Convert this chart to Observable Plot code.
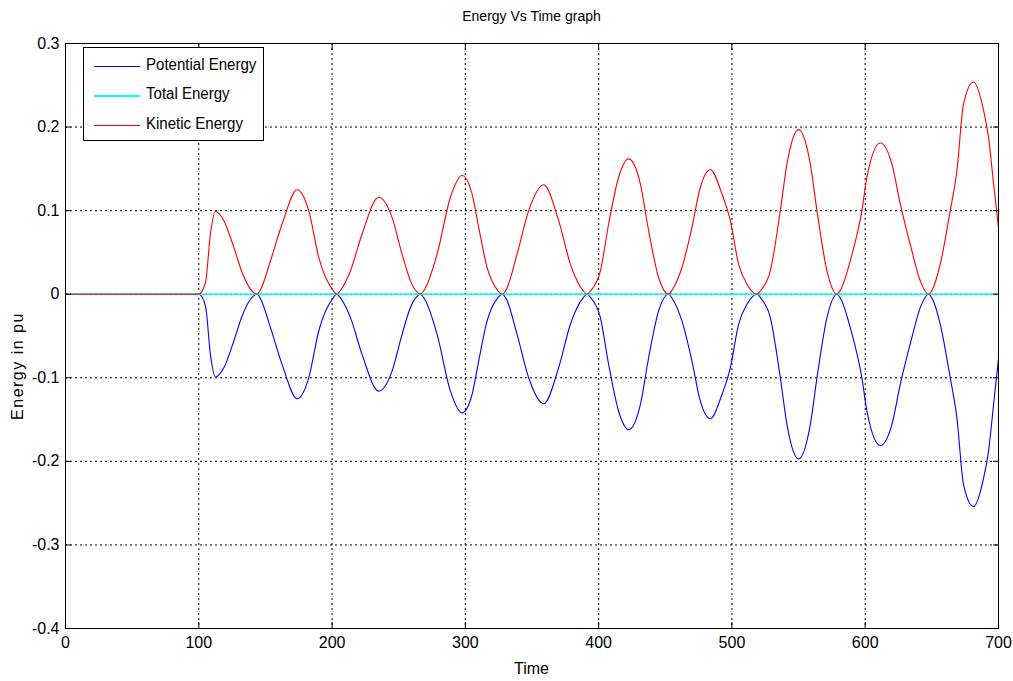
<!DOCTYPE html>
<html><head><meta charset="utf-8">
<script src="https://cdn.jsdelivr.net/npm/d3@7"></script>
<script src="https://cdn.jsdelivr.net/npm/@observablehq/plot@0.6"></script>
<style>
body{margin:0;background:#fff;}
#wrap{position:relative;width:1013px;height:681px;font-family:"Liberation Sans",Arial,sans-serif;color:#000;}
#wrap svg{display:block;}
.abs{position:absolute;white-space:nowrap;}
#title{left:0;width:1063px;top:8px;text-align:center;font-size:14px;}
#xlabel{left:0;width:1063px;top:660px;text-align:center;font-size:16px;}
#ylabel{left:18px;top:366px;font-size:16px;letter-spacing:1.5px;transform:translate(-50%,-50%) rotate(-90deg);}
#legend{left:83px;top:47px;width:179px;height:92px;border:1px solid #000;background:#fff;font-size:16px;}
.row{position:absolute;left:0;height:20px;}
.row span.ln{position:absolute;left:10px;width:46px;top:10px;height:0;border-top:1px solid;}
.row span.tx{position:absolute;left:62px;top:0px;transform:scaleX(0.94);transform-origin:left center;}
</style></head><body><div id="wrap"></div><script>
// ---- data ----
const xTicks = [0, 100, 200, 300, 400, 500, 600, 700];
const yTicks = [-0.4, -0.3, -0.2, -0.1, 0, 0.1, 0.2, 0.3];

const timeK = [0, 100, 105, 108.8, 112.5, 118.8, 126.3, 132.5, 138.8, 143.8,
  146.5, 153.8, 162.5, 173.8, 182.5, 190, 201, 203.5,
  206.5, 213.8, 222.5, 235, 245, 252.5, 258.8, 263.5, 266.3,
  269.5, 278.8, 288.8, 297.5, 305, 310, 316.3, 324.5, 327.5,
  330.5, 338.8, 347.5, 358.8, 370, 378.8, 388.5, 391.3,
  394, 401.3, 407.5, 415, 422.5, 431.3, 437.5, 445, 452.5,
  455.5, 462.5, 470, 476.3, 483.8, 492.5, 498.8, 505, 511.3, 518.8,
  521.8, 528.8, 536.3, 541.3, 550, 558.8, 563.8, 571.3, 578.8,
  581.8, 588.8, 597.5, 601.3, 611.3, 620, 626.3, 635, 641.3, 647.5,
  650.5, 656.3, 663.8, 668.8, 673.8, 681.3, 688.8, 692.5, 696.3, 700];

const kinetic = [0, 0, 0.014, 0.073, 0.099, 0.088, 0.056, 0.026, 0.006, 0,
  0.006, 0.040, 0.084, 0.125, 0.100, 0.044, 0.004, 0,
  0.005, 0.028, 0.072, 0.116, 0.092, 0.048, 0.016, 0.003, 0,
  0.006, 0.048, 0.116, 0.142, 0.120, 0.080, 0.032, 0.004, 0,
  0.005, 0.048, 0.100, 0.131, 0.088, 0.036, 0.004, 0,
  0.004, 0.028, 0.084, 0.140, 0.162, 0.132, 0.076, 0.020, 0,
  0.006, 0.032, 0.080, 0.128, 0.149, 0.120, 0.088, 0.036, 0.012, 0,
  0.005, 0.028, 0.100, 0.156, 0.197, 0.156, 0.100, 0.028, 0,
  0.006, 0.040, 0.100, 0.140, 0.181, 0.156, 0.108, 0.052, 0.016, 0,
  0.006, 0.036, 0.100, 0.148, 0.228, 0.254, 0.220, 0.188, 0.132, 0.080];

const potential = [0, 0, -0.014, -0.073, -0.099, -0.088, -0.056, -0.026, -0.006, 0,
  -0.006, -0.040, -0.084, -0.125, -0.100, -0.044, -0.004, 0,
  -0.005, -0.028, -0.072, -0.116, -0.092, -0.048, -0.016, -0.003, 0,
  -0.006, -0.048, -0.116, -0.142, -0.120, -0.080, -0.032, -0.004, 0,
  -0.005, -0.048, -0.100, -0.131, -0.088, -0.036, -0.004, 0,
  -0.004, -0.028, -0.084, -0.140, -0.162, -0.132, -0.076, -0.020, 0,
  -0.006, -0.032, -0.080, -0.128, -0.149, -0.120, -0.088, -0.036, -0.012, 0,
  -0.005, -0.028, -0.100, -0.156, -0.197, -0.156, -0.100, -0.028, 0,
  -0.006, -0.040, -0.100, -0.140, -0.181, -0.156, -0.108, -0.052, -0.016, 0,
  -0.006, -0.036, -0.100, -0.148, -0.228, -0.254, -0.220, -0.188, -0.132, -0.077];

const timeTotal = [0, 700];
const total = [0, 0];

const seriesNames = ["Potential Energy", "Total Energy", "Kinetic Energy"];
const seriesColors = ["#0000ff", "#00ffff", "#ff0000"];

// ---- build rows ----
const rowsK = timeK.map((t, i) => ({t, v: kinetic[i]}));
const rowsP = timeK.map((t, i) => ({t, v: potential[i]}));
const rowsT = timeTotal.map((t, i) => ({t, v: total[i]}));

const fmtY = d => (Math.abs(d) < 1e-9 ? "0" : String(+d.toFixed(1)));
const blank = () => "";

const chart = Plot.plot({
  width: 1013, height: 681,
  marginLeft: 65, marginRight: 15, marginTop: 43, marginBottom: 53,
  x: {domain: [0, 700]},
  y: {domain: [-0.4, 0.3]},
  style: {fontFamily: '"Liberation Sans", Arial, sans-serif', fontSize: "16px", color: "black", background: "white"},
  marks: [
    Plot.gridX(xTicks, {stroke: "black", strokeOpacity: 1, strokeDasharray: "2,3"}),
    Plot.gridY(yTicks, {stroke: "black", strokeOpacity: 1, strokeDasharray: "2,3"}),
    Plot.line(rowsP, {x: "t", y: "v", stroke: seriesColors[0], strokeWidth: 1.1, curve: "monotone-x"}),
    Plot.line(rowsT, {x: "t", y: "v", stroke: seriesColors[1], strokeWidth: 1.6}),
    Plot.line(rowsK, {x: "t", y: "v", stroke: seriesColors[2], strokeWidth: 1.1, curve: "monotone-x"}),
    Plot.axisX(xTicks, {anchor: "bottom", tickSize: -6, tickPadding: 14, label: null, tickFormat: d => String(d)}),
    Plot.axisX(xTicks, {anchor: "top", tickSize: -6, tickFormat: blank, label: null}),
    Plot.axisY(yTicks, {anchor: "left", tickSize: -6, tickPadding: 12, label: null, tickFormat: fmtY}),
    Plot.axisY(yTicks, {anchor: "right", tickSize: -6, tickFormat: blank, label: null}),
    Plot.frame({stroke: "black", strokeWidth: 1})
  ]
});

const wrap = document.getElementById("wrap");
wrap.appendChild(chart);

function addDiv(id, text) {
  const d = document.createElement("div");
  d.className = "abs"; d.id = id; d.textContent = text;
  wrap.appendChild(d);
  return d;
}
addDiv("title", "Energy Vs Time graph");
addDiv("xlabel", "Time");
addDiv("ylabel", "Energy in pu");

const legend = addDiv("legend", "");
const rowTops = [8, 37, 67];
seriesNames.forEach((name, i) => {
  const r = document.createElement("div");
  r.className = "row"; r.style.top = rowTops[i] + "px";
  const ln = document.createElement("span");
  ln.className = "ln"; ln.style.borderTopColor = seriesColors[i];
  if (i === 1) ln.style.borderTopWidth = "2px";
  const tx = document.createElement("span");
  tx.className = "tx"; tx.textContent = name;
  r.appendChild(ln); r.appendChild(tx);
  legend.appendChild(r);
});
</script></body></html>
